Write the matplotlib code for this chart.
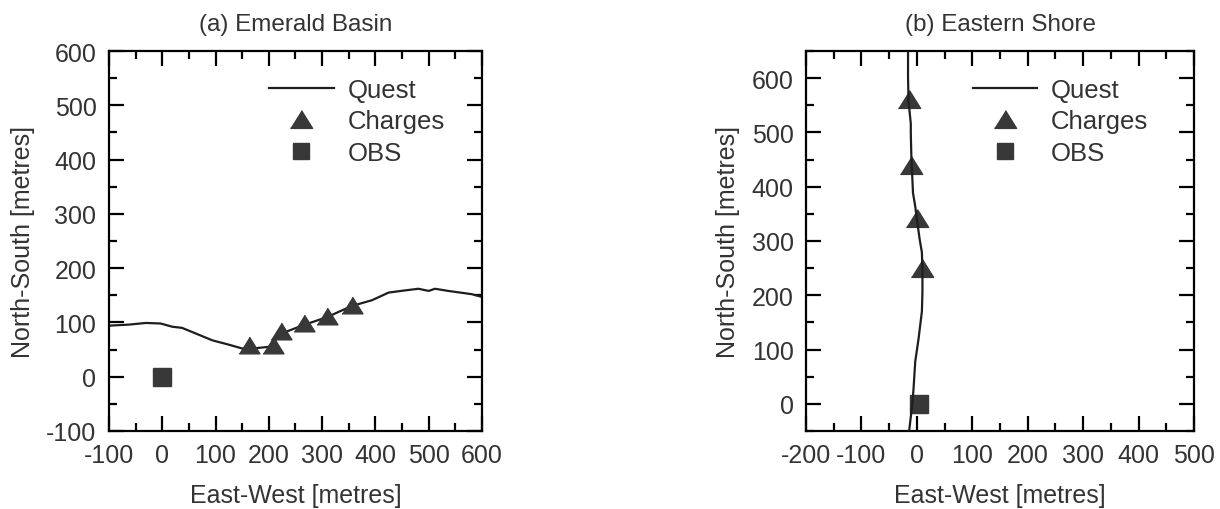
import numpy as np
import matplotlib
matplotlib.use('Agg')
import matplotlib.pyplot as plt
from matplotlib.lines import Line2D
from matplotlib.ticker import MultipleLocator

plt.rcParams['font.family'] = ['Liberation Sans', 'DejaVu Sans']
plt.rcParams['font.size'] = 18
plt.rcParams['axes.unicode_minus'] = False
plt.rcParams['text.color'] = '#333333'
plt.rcParams['axes.labelcolor'] = '#333333'
plt.rcParams['xtick.labelcolor'] = '#333333'
plt.rcParams['ytick.labelcolor'] = '#333333'

# (a) Emerald Basin
quest_a_x = [-100, -62, -31, -3, 19, 37, 62, 94, 125, 150, 170, 200, 225, 265,
             310, 355, 394, 425, 456, 481, 500, 512, 537, 581, 600]
quest_a_y = [94, 96, 99, 98, 92, 90, 80, 67, 59, 52, 52, 55, 80, 95,
             110, 130, 141, 155, 159, 162, 158, 162, 158, 152, 147]
charges_a_x = [162, 207, 222, 266, 310, 357]
charges_a_y = [58, 58, 84, 98, 111, 132]
obs_a_x = [0]
obs_a_y = [0]

# (b) Eastern Shore
quest_b_x = [-16, -16, -15, -11, -11, -10, -7, -3, 0, 5, 9, 10, 10, 9, 3, -3, -6, -8, -14]
quest_b_y = [650, 600, 557, 516, 498, 455, 388, 364, 340, 303, 279, 245, 206, 170,
             120, 78, 29, 2, -50]
charges_b_x = [-15, -10, 0, 10]
charges_b_y = [562, 440, 342, 250]
obs_b_x = [3]
obs_b_y = [0]

tri = [(-1, -0.8), (1, -0.8), (0, 0.8)]
mcol = '#383838'
lcol = '#1e1e1e'


def style_axes(ax, xmaj, ymaj):
    ax.xaxis.set_major_locator(MultipleLocator(xmaj))
    ax.xaxis.set_minor_locator(MultipleLocator(xmaj / 2))
    ax.yaxis.set_major_locator(MultipleLocator(ymaj))
    ax.yaxis.set_minor_locator(MultipleLocator(ymaj / 2))
    ax.tick_params(which='both', direction='in', top=True, right=True, width=1.6)
    ax.tick_params(which='major', length=11, pad=9)
    ax.tick_params(which='minor', length=6)
    for s in ax.spines.values():
        s.set_linewidth(1.6)
    ax.set_xlabel('East-West [metres]', labelpad=11)
    ax.set_ylabel('North-South [metres]', labelpad=8)


def add_legend(ax, anchor):
    handles = [
        Line2D([], [], color=lcol, lw=1.6, label='Quest'),
        Line2D([], [], color=mcol, ls='none', marker=tri, markersize=16, label='Charges'),
        Line2D([], [], color=mcol, ls='none', marker='s', markersize=12, label='OBS'),
    ]
    ax.legend(handles=handles, loc='upper left', bbox_to_anchor=anchor, frameon=False,
              handlelength=2.5, handletextpad=0.55, labelspacing=0.3,
              borderpad=0, borderaxespad=0, fontsize=18.5)


fig = plt.figure(figsize=(12.2, 5.1), dpi=100)
ax1 = fig.add_axes([0.0893, 0.153, 0.3057, 0.745])
ax2 = fig.add_axes([0.6607, 0.153, 0.318, 0.745])

ax1.plot(quest_a_x, quest_a_y, color=lcol, lw=1.6, zorder=2)
ax1.plot(charges_a_x, charges_a_y, ls='none', marker=tri, markersize=15, color=mcol, zorder=3)
ax1.plot(obs_a_x, obs_a_y, ls='none', marker='s', markersize=12.5, color=mcol, zorder=3)
ax1.set_xlim(-100, 600)
ax1.set_ylim(-100, 600)
style_axes(ax1, 100, 100)
ax1.set_title('(a) Emerald Basin', fontsize=17.5, pad=15)
add_legend(ax1, (0.43, 0.93))

ax2.plot(charges_b_x, charges_b_y, ls='none', marker=tri, markersize=16, color=mcol, zorder=2)
ax2.plot(obs_b_x, obs_b_y, ls='none', marker='s', markersize=12.5, color=mcol, zorder=2)
ax2.plot(quest_b_x, quest_b_y, color=lcol, lw=1.6, zorder=3)
ax2.set_xlim(-200, 500)
ax2.set_ylim(-50, 650)
style_axes(ax2, 100, 100)
ax2.set_title('(b) Eastern Shore', fontsize=17.5, pad=15)
add_legend(ax2, (0.43, 0.93))

fig.savefig('out.png', dpi=100)
